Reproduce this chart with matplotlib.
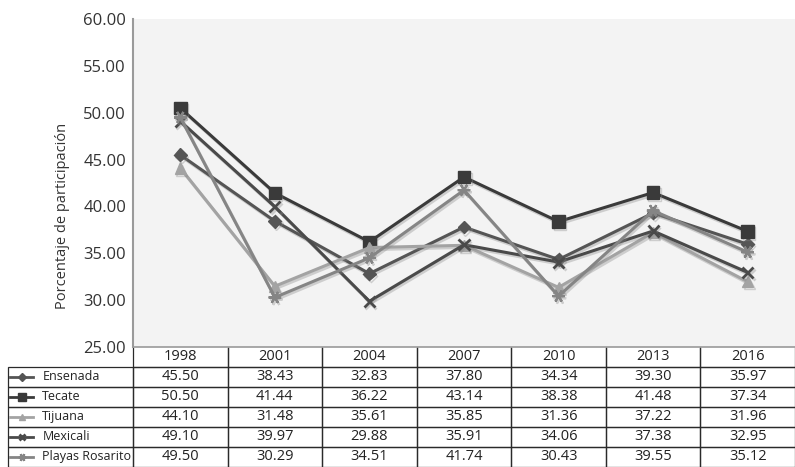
import matplotlib
matplotlib.use("Agg")
import matplotlib.pyplot as plt
import matplotlib.patheffects as pe
from matplotlib.table import Table

plt.rcParams['font.family'] = ['Open Sans', 'DejaVu Sans']

years = ['1998', '2001', '2004', '2007', '2010', '2013', '2016']
ensenada = [45.50, 38.43, 32.83, 37.80, 34.34, 39.30, 35.97]
tecate = [50.50, 41.44, 36.22, 43.14, 38.38, 41.48, 37.34]
tijuana = [44.10, 31.48, 35.61, 35.85, 31.36, 37.22, 31.96]
mexicali = [49.10, 39.97, 29.88, 35.91, 34.06, 37.38, 32.95]
rosarito = [49.50, 30.29, 34.51, 41.74, 30.43, 39.55, 35.12]
names = ['Ensenada', 'Tecate', 'Tijuana', 'Mexicali', 'Playas Rosarito']
series = [ensenada, tecate, tijuana, mexicali, rosarito]

styles = [
    dict(color='#555555', marker='D', markersize=6.5),
    dict(color='#3a3a3a', marker='s', markersize=9),
    dict(color='#a3a3a3', marker='^', markersize=8),
    dict(color='#4a4a4a', marker='x', markersize=8, markeredgewidth=2),
    dict(color='#858585', marker=(6, 2, 90), markersize=9, markeredgewidth=1.6),
]

fig = plt.figure(figsize=(7.95, 4.67), dpi=100)
ax = fig.add_axes([0.1673, 0.2570, 0.8327, 0.7023])
ax.set_facecolor('#f3f3f3')

shadow = [pe.SimpleLineShadow(offset=(1, -1.5), shadow_color='#888888', alpha=0.35), pe.Normal()]
x = list(range(len(years)))
for vals, st in zip(series, styles):
    ax.plot(x, vals, linewidth=2.2, path_effects=shadow, **st)

ax.set_xlim(-0.5, len(years) - 0.5)
ax.set_ylim(25, 60)
ax.set_yticks([25, 30, 35, 40, 45, 50, 55, 60])
ax.set_yticklabels(['%.2f' % v for v in ax.get_yticks()], fontsize=12, color='#333333')
ax.tick_params(axis='y', length=0, pad=5)
ax.set_xticks([])
for s in ['top', 'right']:
    ax.spines[s].set_visible(False)
ax.spines['left'].set_color('#9a9a9a')
ax.spines['left'].set_linewidth(1.5)
ax.spines['bottom'].set_color('#9a9a9a')
ax.spines['bottom'].set_linewidth(1.2)

ax.set_ylabel('Porcentaje de participación', fontsize=10.5, color='#333333')
ax.yaxis.set_label_coords(-0.095, 0.40)

# data table under the axes; widths in axes fractions, the row-label
# column hangs off to the left of the bbox
ax_w_px, ax_h_px = 662.0, 328.0
label_w = 125.0 / ax_w_px
col_w = 1.0 / len(years)
n_rows = len(names) + 1
row_h = 20.0 / ax_h_px
tbl_h = n_rows * row_h
table = Table(ax, bbox=[0, -tbl_h, 1, tbl_h])
edge = '#2a2a2a'
for j, yr in enumerate(years):
    c = table.add_cell(0, j, width=col_w, height=row_h, text=yr, loc='center', facecolor='none')
    c.visible_edges = 'BLR'
for i, (name, vals) in enumerate(zip(names, series), start=1):
    c = table.add_cell(i, -1, width=label_w, height=row_h, text=name, loc='left', facecolor='none')
    c.PAD = 0.275
    for j, v in enumerate(vals):
        table.add_cell(i, j, width=col_w, height=row_h, text='%.2f' % v, loc='center', facecolor='none')
table.auto_set_font_size(False)
for (r, cidx), cell in table.get_celld().items():
    cell.set_edgecolor(edge)
    cell.set_linewidth(0.9)
    t = cell.get_text()
    t.set_color('#222222')
    t.set_fontsize(10.5 if cidx >= 0 else 9)
ax.add_table(table)

# legend keys inside the row-label cells
key_x = [-label_w + 2 / ax_w_px, -label_w + 13.5 / ax_w_px, -label_w + 25 / ax_w_px]
for i, st in enumerate(styles, start=1):
    yk = -(i + 0.5) * row_h
    kst = dict(st)
    kst['markersize'] = st['markersize'] * 0.6
    ax.plot(key_x, [yk] * 3, transform=ax.transAxes, clip_on=False,
            linewidth=2, markevery=[1], **kst)

fig.savefig('out.png', dpi=100)
